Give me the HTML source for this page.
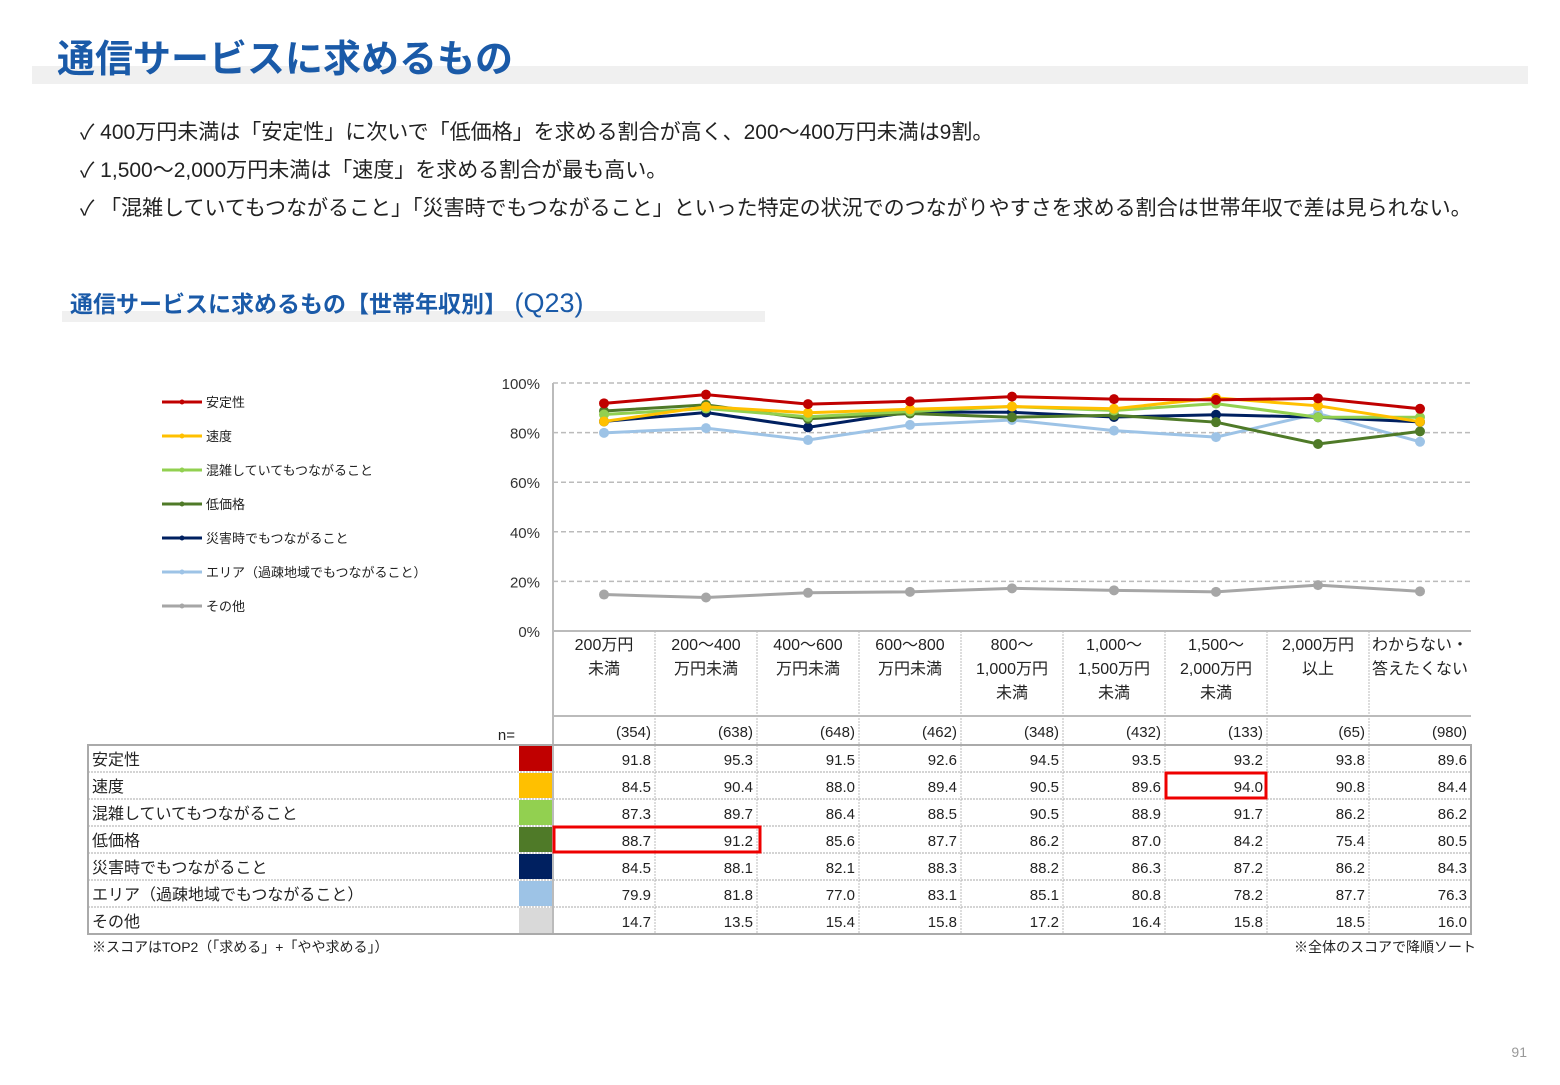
<!DOCTYPE html>
<html><head><meta charset="utf-8"><style>
body{margin:0;background:#fff;}
svg text{font-family:"Liberation Sans","Noto Sans CJK JP",sans-serif;}
</style></head><body>
<svg id="s" width="1560" height="1080" xmlns="http://www.w3.org/2000/svg">
<rect x="32" y="66" width="1496" height="18" fill="#f0f0f0"/>
<text x="57" y="72" font-size="38" font-weight="bold" fill="#1a5aa8">通信サービスに求めるもの</text>
<g font-size="21" fill="#222">
<text x="80" y="139">✓ 400万円未満は「安定性」に次いで「低価格」を求める割合が高く、200～400万円未満は9割。</text>
<text x="80" y="177">✓ 1,500～2,000万円未満は「速度」を求める割合が最も高い。</text>
<text x="80" y="215">✓ 「混雑していてもつながること」「災害時でもつながること」といった特定の状況でのつながりやすさを求める割合は世帯年収で差は見られない。</text>
</g>
<rect x="62" y="311" width="703" height="11" fill="#f0f0f0"/>
<text x="70" y="312" font-size="23" font-weight="bold" fill="#1a5aa8">通信サービスに求めるもの【世帯年収別】<tspan font-weight="normal" font-size="27"> (Q23)</tspan></text>
<g id="chart"></g>
<text x="92" y="952" font-size="14" fill="#222">※スコアはTOP2（「求める」+「やや求める」）</text>
<text x="1476" y="952" font-size="14" fill="#222" text-anchor="end">※全体のスコアで降順ソート</text>
<text x="1527" y="1057" font-size="14" fill="#999" text-anchor="end">91</text>
</svg>
<script>
const categories=[["200万円","未満"],["200～400","万円未満"],["400～600","万円未満"],["600～800","万円未満"],["800～","1,000万円","未満"],["1,000～","1,500万円","未満"],["1,500～","2,000万円","未満"],["2,000万円","以上"],["わからない・","答えたくない"]];
const nCounts=["(354)","(638)","(648)","(462)","(348)","(432)","(133)","(65)","(980)"];
const seriesNames=["安定性","速度","混雑していてもつながること","低価格","災害時でもつながること","エリア（過疎地域でもつながること）","その他"];
const sAnteisei=[91.8,95.3,91.5,92.6,94.5,93.5,93.2,93.8,89.6];
const sSokudo=[84.5,90.4,88.0,89.4,90.5,89.6,94.0,90.8,84.4];
const sKonzatsu=[87.3,89.7,86.4,88.5,90.5,88.9,91.7,86.2,86.2];
const sTeikakaku=[88.7,91.2,85.6,87.7,86.2,87.0,84.2,75.4,80.5];
const sSaigai=[84.5,88.1,82.1,88.3,88.2,86.3,87.2,86.2,84.3];
const sArea=[79.9,81.8,77.0,83.1,85.1,80.8,78.2,87.7,76.3];
const sSonota=[14.7,13.5,15.4,15.8,17.2,16.4,15.8,18.5,16.0];
const yTicks=[0,20,40,60,80,100];
const series=[sAnteisei,sSokudo,sKonzatsu,sTeikakaku,sSaigai,sArea,sSonota];
const lineColors=["#c00000","#ffc000","#92d050","#4f7a28","#002060","#9dc3e6","#a6a6a6"];
const swatchColors=["#c00000","#ffc000","#92d050","#4f7a28","#002060","#9dc3e6","#d9d9d9"];
const NS="http://www.w3.org/2000/svg";
const g=document.getElementById('chart');
const X0=553,CW=102,Y100=383,Y0=631;
const xc=i=>X0+CW*i+CW/2;
const ys=v=>Y0-(v/100)*(Y0-Y100);
function el(t,a,p){const e=document.createElementNS(NS,t);for(const k in a)e.setAttribute(k,a[k]);(p||g).appendChild(e);return e;}
yTicks.forEach(t=>{
  if(t>0){const l=el('line',{x1:X0,x2:X0+CW*9,y1:ys(t),y2:ys(t),stroke:'#bbb','stroke-width':1.5,'stroke-dasharray':'5,3'});
  
  }
  const tx=el('text',{x:540,y:ys(t)+6,'font-size':15,fill:'#333','text-anchor':'end'});tx.textContent=t+'%';
  
  
});
const ax=el('line',{x1:X0,x2:X0,y1:Y100,y2:745,stroke:'#bbb','stroke-width':2});


for(let s=series.length-1;s>=0;s--){
  const pts=series[s].map((v,i)=>xc(i)+','+ys(v)).join(' ');
  const pl=el('polyline',{points:pts,fill:'none',stroke:lineColors[s],'stroke-width':3});
  
  
  series[s].forEach((v,i)=>{const c=el('circle',{cx:xc(i),cy:ys(v),r:5,fill:lineColors[s]});
    
    });
}
seriesNames.forEach((n,s)=>{
  const y=402+s*34;
  const l=el('line',{x1:162,x2:202,y1:y,y2:y,stroke:lineColors[s],'stroke-width':3});
  
  
  el('circle',{cx:182,cy:y,r:2.5,fill:lineColors[s]});
  const t=el('text',{x:206,y:y+5,'font-size':13,fill:'#222'});t.textContent=n;
  
  
});
el('line',{x1:X0,x2:X0+CW*9,y1:631,y2:631,stroke:'#bbb','stroke-width':2});
el('line',{x1:X0,x2:X0+CW*9,y1:716,y2:716,stroke:'#bbb','stroke-width':2});
categories.forEach((c,i)=>{
  if(i>0)el('line',{x1:X0+CW*i,x2:X0+CW*i,y1:631,y2:934,stroke:'#bbb','stroke-width':1,'stroke-dasharray':'2,1'});
  c.forEach((ln,j)=>{const t=el('text',{x:xc(i),y:650+j*24,'font-size':16,fill:'#222','text-anchor':'middle'});t.textContent=ln;
    
    });
  const n=el('text',{x:X0+CW*(i+1)-4,y:737,'font-size':15,fill:'#222','text-anchor':'end'});n.textContent=nCounts[i];
  
  
});
const nl=el('text',{x:515,y:740,'font-size':15,fill:'#222','text-anchor':'end'});nl.textContent='n=';
const RY=745,RH=27;
seriesNames.forEach((n,s)=>{
  const y=RY+s*RH;
  if(s>0)el('line',{x1:88,x2:X0+CW*9,y1:y,y2:y,stroke:'#aaa','stroke-width':1,'stroke-dasharray':'2,1'});
  const t=el('text',{x:92,y:y+20,'font-size':16,fill:'#222'});t.textContent=n;
  
  
  const sw=el('rect',{x:519,y:y+1,width:34,height:RH-2,fill:swatchColors[s]});
  
  
  series[s].forEach((v,i)=>{const c=el('text',{x:X0+CW*(i+1)-4,y:y+20,'font-size':15,fill:'#222','text-anchor':'end'});c.textContent=v.toFixed(1);
    
    });
});
el('line',{x1:X0,x2:X0,y1:745,y2:934,stroke:'#bbb','stroke-width':2});
const ob=el('rect',{x:88,y:745,width:X0+CW*9-88,height:RH*7,fill:'none',stroke:'#aaa','stroke-width':2});


const h1=el('rect',{x:X0+CW*6+1,y:RY+RH*1+1,width:CW-2,height:RH-2,fill:'none',stroke:'#e00','stroke-width':3});


const h2=el('rect',{x:X0+1,y:RY+RH*3+1,width:CW*2+2,height:RH-2,fill:'none',stroke:'#e00','stroke-width':3});


</script>
</body></html>
